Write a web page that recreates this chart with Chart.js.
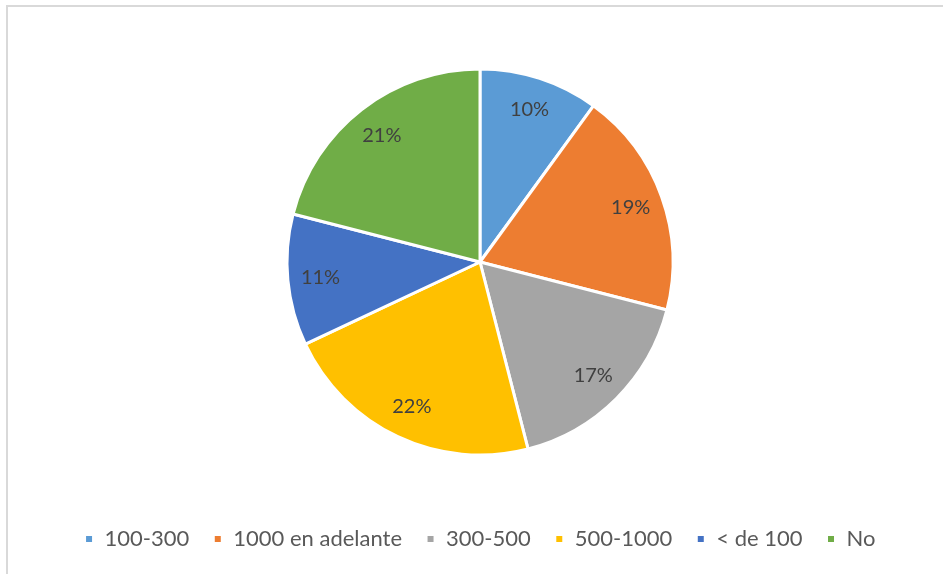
<!DOCTYPE html>
<html>
<head>
<meta charset="utf-8">
<script src="https://cdn.jsdelivr.net/npm/chart.js@4"></script>
<style>
    html, body { margin: 0; padding: 0; background: #fff; }
    #wrap { position: relative; width: 943px; height: 574px; }
    #frame {
        position: absolute; left: 6px; top: 5px; right: 0; bottom: 0;
        border-left: 2px solid #d9d9d9; border-top: 2px solid #d9d9d9;
        pointer-events: none;
    }
</style>
</head>
<body>
<div id="wrap">
    <canvas id="pieChart" width="943" height="574"></canvas>
    <div id="frame"></div>
</div>
<script>
// ─── DATA ───
const categories = ['100-300', '1000 en adelante', '300-500', '500-1000', '< de 100', 'No'];
const shares = [10, 19, 17, 22, 11, 21];
const sliceColors = ['#5B9BD5', '#ED7D31', '#A5A5A5', '#FFC000', '#4472C4', '#70AD47'];

// percentage labels drawn inside each slice
const sliceLabels = {
    id: 'sliceLabels',
    afterDatasetsDraw(chart) {
        const ctx = chart.ctx;
        const meta = chart.getDatasetMeta(0);
        ctx.save();
        ctx.font = '20px Lato, "Open Sans", sans-serif';
        ctx.fillStyle = '#404040';
        ctx.textAlign = 'center';
        ctx.textBaseline = 'middle';
        meta.data.forEach((arc, i) => {
            const p = arc.getProps(['x', 'y', 'startAngle', 'endAngle', 'outerRadius'], true);
            const mid = (p.startAngle + p.endAngle) / 2;
            const r = p.outerRadius * 0.83;
            ctx.fillText(shares[i] + '%', p.x + Math.cos(mid) * r, p.y + Math.sin(mid) * r);
        });
        ctx.restore();
    }
};

new Chart(document.getElementById('pieChart'), {
    type: 'pie',
    data: {
        labels: categories,
        datasets: [{
            data: shares,
            backgroundColor: sliceColors,
            borderColor: '#ffffff',
            borderWidth: 3,
            radius: 193
        }]
    },
    options: {
        responsive: false,
        animation: false,
        layout: { padding: { top: 20, left: 17, right: 0, bottom: 14 } },
        plugins: {
            tooltip: { enabled: false },
            legend: {
                position: 'bottom',
                labels: {
                    color: '#595959',
                    font: { family: 'Lato, "Open Sans", sans-serif', size: 22 },
                    boxWidth: 9,
                    boxHeight: 9,
                    padding: 24
                }
            }
        }
    },
    plugins: [sliceLabels]
});
</script>
</body>
</html>
